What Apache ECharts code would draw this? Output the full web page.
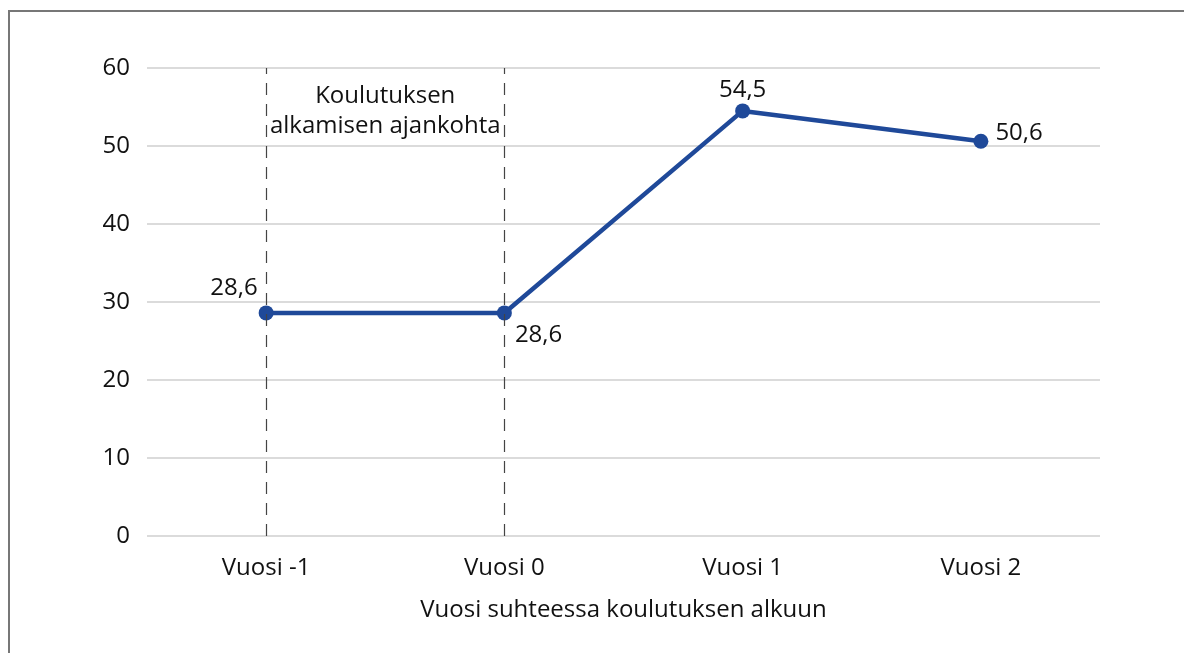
<!DOCTYPE html>
<html lang="fi">
<head>
    <meta charset="UTF-8">
    <title>Vuosi suhteessa koulutuksen alkuun</title>
    <script src="https://cdn.jsdelivr.net/npm/echarts@6/dist/echarts.min.js"></script>
    <style>
        html, body{
            margin: 0;
            padding: 0;
            background: #fff;
        }
        #wrap{
            position: relative;
            width: 1184px;
            height: 653px;
            overflow: hidden;
        }
        #frame{
            position: absolute;
            left: 8px;
            top: 10px;
            width: 1400px;
            height: 900px;
            border: 2px solid #777;
        }
        #chart{
            position: absolute;
            left: 0;
            top: 0;
            width: 1184px;
            height: 653px;
        }
    </style>
</head>
<body>
<div id="wrap">
    <div id="frame"></div>
    <div id="chart"></div>
</div>
<script>
    // data
    var categories = ['Vuosi -1', 'Vuosi 0', 'Vuosi 1', 'Vuosi 2'];
    var values = [28.6, 28.6, 54.5, 50.6];
    var labelPositions = ['left-top', 'right-bottom', 'top', 'right'];
    var markedYears = ['Vuosi -1', 'Vuosi 0'];
    var markText = 'Koulutuksen\nalkamisen ajankohta';
    var axisName = 'Vuosi suhteessa koulutuksen alkuun';

    var font = '"Open Sans", "Noto Sans", sans-serif';
    var fs = 24;

    function fmt(v){
        return v.toFixed(1).replace('.', ',');
    }

    // label offsets per point
    var offsets = {
        'left-top': { position: 'left', offset: [4, -25] },
        'right-bottom': { position: 'right', offset: [-2, 22] },
        'top': { position: 'top', offset: [0, 4] },
        'right': { position: 'right', offset: [2, -8] }
    };

    var seriesData = values.map(function(v, i){
        var o = offsets[labelPositions[i]];
        return {
            value: v,
            label: { position: o.position, offset: o.offset }
        };
    });

    var chart = echarts.init(document.getElementById('chart'));
    chart.setOption({
        animation: false,
        textStyle: { fontFamily: font },
        grid: { left: 147, right: 84, top: 68, bottom: 117 },
        xAxis: {
            type: 'category',
            data: categories,
            boundaryGap: true,
            axisLine: { show: false },
            axisTick: { show: false },
            axisLabel: { color: '#111', fontSize: fs, margin: 20, fontFamily: font },
            name: axisName,
            nameLocation: 'middle',
            nameGap: 62,
            nameTextStyle: { color: '#111', fontSize: fs, fontFamily: font }
        },
        yAxis: {
            type: 'value',
            min: 0,
            max: 60,
            interval: 10,
            axisLine: { show: false },
            axisTick: { show: false },
            axisLabel: { color: '#111', fontSize: fs, margin: 17, fontFamily: font },
            splitLine: { lineStyle: { color: '#cfcfcf', width: 1.5 } }
        },
        series: [{
            type: 'line',
            data: seriesData,
            symbol: 'circle',
            symbolSize: 15,
            lineStyle: { color: '#1f4999', width: 4.5 },
            itemStyle: { color: '#1f4999' },
            label: {
                show: true,
                color: '#111',
                fontSize: fs,
                fontFamily: font,
                formatter: function(p){ return fmt(p.value); }
            },
            markLine: {
                silent: true,
                symbol: 'none',
                label: { show: false },
                lineStyle: { color: '#444', type: [12, 9], width: 1.2 },
                data: markedYears.map(function(c){ return { xAxis: c }; })
            },
            markArea: {
                silent: true,
                itemStyle: { color: 'rgba(0,0,0,0)' },
                label: {
                    show: true,
                    position: 'insideTop',
                    distance: 13,
                    color: '#111',
                    fontSize: fs,
                    lineHeight: 30,
                    align: 'center',
                    fontFamily: font,
                    backgroundColor: '#fff'
                },
                data: [[
                    { name: markText, xAxis: markedYears[0], yAxis: 60 },
                    { xAxis: markedYears[1], yAxis: 0 }
                ]]
            }
        }]
    });
</script>
</body>
</html>
